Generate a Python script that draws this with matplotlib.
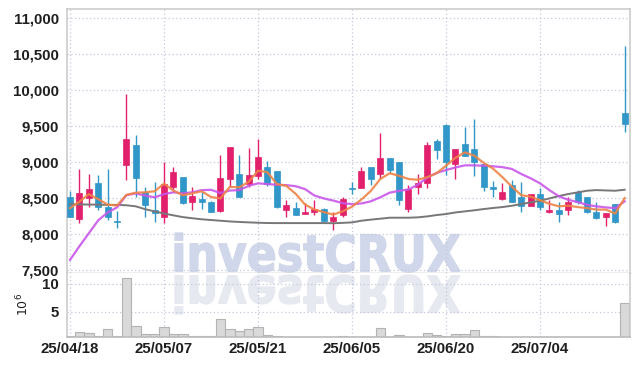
import numpy as np
import pandas as pd
import matplotlib
matplotlib.use('Agg')
import matplotlib.pyplot as plt
from matplotlib.textpath import TextPath
from matplotlib.patches import PathPatch
from matplotlib.font_manager import FontProperties
from matplotlib.transforms import Affine2D
from matplotlib.ticker import FuncFormatter

# 거래일 (KRX 휴장일 제외)
dates = pd.bdate_range('2025-04-18', '2025-07-17', freq='C',
                       holidays=['2025-05-01', '2025-05-05', '2025-05-06',
                                 '2025-06-03', '2025-06-06'])
date_labels = [d.strftime('%y/%m/%d') for d in dates]

opens = np.array([8510, 8210, 8500, 8710, 8370, 8170, 8960, 9240, 8590, 8330,
                  8230, 8660, 8790, 8440, 8490, 8450, 8320, 8760, 8830, 8690,
                  8800, 8930, 8870, 8340, 8360, 8280, 8300, 8350, 8180, 8260,
                  8630, 8640, 8930, 8840, 9060, 9000, 8350, 8660, 8710, 9290,
                  9510, 8970, 9250, 9180, 8970, 8660, 8490, 8680, 8520, 8390,
                  8560, 8310, 8340, 8340, 8590, 8510, 8310, 8230, 8420, 9680])
highs = np.array([8600, 8910, 8840, 8820, 8900, 8320, 9950, 9380, 8650, 8720,
                  9000, 8930, 8790, 8650, 8580, 8460, 9100, 9210, 9100, 9190,
                  9320, 9010, 8870, 8480, 8440, 8430, 8480, 8360, 8310, 8520,
                  8720, 8930, 8930, 9400, 9060, 9000, 8680, 8840, 9280, 9320,
                  9530, 9180, 9490, 9600, 8970, 8740, 8710, 8750, 8720, 8550,
                  8640, 8470, 8440, 8510, 8610, 8510, 8440, 8290, 8420, 10610])
lows = np.array([8230, 8150, 8370, 8340, 8190, 8080, 8750, 8520, 8230, 8170,
                 8160, 8600, 8420, 8340, 8350, 8300, 8310, 8650, 8510, 8660,
                 8770, 8670, 8360, 8230, 8270, 8280, 8260, 8170, 8050, 8240,
                 8550, 8640, 8680, 8770, 8850, 8410, 8300, 8550, 8640, 9040,
                 8820, 8770, 9080, 8810, 8600, 8510, 8470, 8440, 8310, 8390,
                 8340, 8290, 8170, 8260, 8420, 8290, 8210, 8110, 8160, 9420])
closes = np.array([8240, 8570, 8630, 8380, 8230, 8170, 9320, 8780, 8410, 8290,
                   8700, 8860, 8430, 8530, 8440, 8310, 8780, 9210, 8510, 8820,
                   9070, 8700, 8370, 8400, 8270, 8310, 8350, 8180, 8240, 8490,
                   8630, 8870, 8770, 9060, 8890, 8480, 8630, 8710, 9240, 9170,
                   9000, 9180, 9090, 9000, 8660, 8620, 8580, 8450, 8390, 8550,
                   8370, 8330, 8280, 8440, 8440, 8300, 8220, 8290, 8170, 9530])
# 거래량 (백만 주)
volume = np.array([0.62, 1.24, 1.06, 0.50, 1.79, 0.50, 11.1, 2.33, 0.87, 0.87,
                   2.15, 0.87, 0.87, 0.50, 0.50, 0.50, 3.67, 1.84, 1.42, 1.79,
                   2.20, 0.75, 0.50, 0.45, 0.30, 0.30, 0.30, 0.30, 0.30, 0.50,
                   0.30, 0.30, 0.30, 1.97, 0.45, 0.69, 0.45, 0.45, 1.06, 0.69,
                   0.60, 0.87, 0.93, 1.60, 0.50, 0.50, 0.30, 0.30, 0.30, 0.30,
                   0.30, 0.30, 0.30, 0.30, 0.30, 0.30, 0.30, 0.30, 0.30, 6.53])
ma5 = np.array([8360, 8450, 8555, 8485, 8410, 8395, 8545, 8575, 8580, 8595,
                8700, 8605, 8540, 8565, 8595, 8515, 8495, 8655, 8650, 8725,
                8880, 8860, 8695, 8670, 8560, 8410, 8340, 8305, 8270, 8315,
                8380, 8480, 8600, 8765, 8845, 8810, 8765, 8755, 8790, 8845,
                8950, 9060, 9135, 9090, 8990, 8910, 8790, 8660, 8540, 8520,
                8470, 8420, 8385, 8395, 8375, 8360, 8340, 8340, 8285, 8500])
ma20 = np.array([7640, 7830, 8010, 8190, 8300, 8370, 8540, 8565, 8535, 8510,
                 8555, 8580, 8565, 8580, 8610, 8615, 8570, 8605, 8610, 8670,
                 8705, 8695, 8685, 8680, 8665, 8625, 8535, 8495, 8465, 8430,
                 8415, 8425, 8455, 8510, 8575, 8600, 8620, 8685, 8785, 8850,
                 8890, 8925, 8955, 8955, 8950, 8942, 8930, 8905, 8835, 8775,
                 8705, 8610, 8525, 8475, 8445, 8405, 8385, 8370, 8360, 8455])
ma60 = np.array([8415, 8412, 8410, 8408, 8405, 8405, 8400, 8385, 8345, 8315,
                 8285, 8260, 8235, 8220, 8205, 8195, 8185, 8175, 8168, 8162,
                 8157, 8153, 8152, 8152, 8152, 8152, 8152, 8152, 8150, 8155,
                 8162, 8185, 8200, 8213, 8227, 8227, 8227, 8232, 8245, 8264,
                 8278, 8300, 8315, 8330, 8347, 8362, 8375, 8393, 8417, 8440,
                 8463, 8495, 8528, 8556, 8579, 8602, 8611, 8606, 8602, 8616])

UP = '#e2216d'
DOWN = '#3196c8'
GRID = '#c3c8dc'
TXT = '#1f1f1f'

W, H = 639, 366
fig = plt.figure(figsize=(W / 100, H / 100), dpi=100)


def rect(l, t, r, b):
    return [l / W, 1 - b / H, (r - l) / W, (b - t) / H]


ax = fig.add_axes(rect(67, 9.3, 630, 272.5))
axv = fig.add_axes(rect(67, 272.5, 630, 336.7), sharex=ax)

tick_font = FontProperties(family='Liberation Sans', weight='bold', size=10.8)

x = np.arange(len(closes))
up = closes > opens
colors = np.where(up, UP, DOWN)

# 워터마크
wm_fp = FontProperties(family='DejaVu Sans', weight='bold')
tp = TextPath((0, 0), 'investCRUX', size=100, prop=wm_fp)
bb = tp.get_extents()
sx, sy = 285 / bb.width, 39 / bb.height
t_main = Affine2D().translate(-bb.x0, -bb.y0).scale(sx, sy).translate(175, H - 272)
t_refl = Affine2D().translate(-bb.x0, -bb.y0).scale(sx, -sy).translate(175, H - 275)
ax.add_patch(PathPatch(tp, transform=t_main, facecolor='#d1d7ea',
                       edgecolor='#d1d7ea', lw=1.0, zorder=0.3))
axv.add_patch(PathPatch(tp, transform=t_refl, facecolor='#e7e9f1',
                        edgecolor='#e7e9f1', lw=1.0, zorder=0.3))

# 캔들
ax.vlines(x, lows, highs, colors=colors, lw=1.0, zorder=2)
body_bot = np.minimum(opens, closes)
body_h = np.maximum(np.abs(closes - opens), 14)
ax.bar(x, body_h, 0.64, bottom=body_bot, color=colors, edgecolor=colors,
       linewidth=0.5, zorder=3)

# 이동평균선
ax.plot(x, ma60, color='#777777', lw=1.4, zorder=4)
ax.plot(x, ma20, color='#c956ea', lw=1.6, alpha=0.9, zorder=4)
ax.plot(x, ma5, color='#ef8447', lw=1.6, alpha=0.9, zorder=4)

# 거래량
axv.bar(x, volume, 1.0, color='#d9d9d9', edgecolor='#b3b3b3', lw=0.8, zorder=2)

ax.set_xlim(-0.32, 59.57)
ax.set_ylim(7465, 11125)
axv.set_ylim(0.44, 12.06)

ax.set_yticks(np.arange(7500, 11001, 500))
ax.yaxis.set_major_formatter(FuncFormatter(lambda v, p: f'{int(v):,}'))
axv.set_yticks([5, 10])
axv.set_xticks(x[::10])
axv.set_xticklabels(date_labels[::10])
ax.tick_params(axis='x', labelbottom=False)

for a in (ax, axv):
    a.set_axisbelow(True)
    a.grid(True, color=GRID, linestyle=(0, (1, 2)), lw=0.9)
    a.tick_params(length=0, colors=TXT, pad=6)
    for lab in a.get_yticklabels() + a.get_xticklabels():
        lab.set_fontproperties(tick_font)
    for s in a.spines.values():
        s.set_color('#cccccc')
        s.set_linewidth(1.2)

ax.spines['bottom'].set_color('#aaaaaa')
ax.spines['bottom'].set_linewidth(1.0)
axv.spines['top'].set_visible(False)
axv.spines['bottom'].set_color('#bbbbbb')
axv.tick_params(axis='x', pad=4)
axv.set_ylabel('$10^6$', fontsize=9, color=TXT, labelpad=8)

fig.savefig('out.png', dpi=100)
